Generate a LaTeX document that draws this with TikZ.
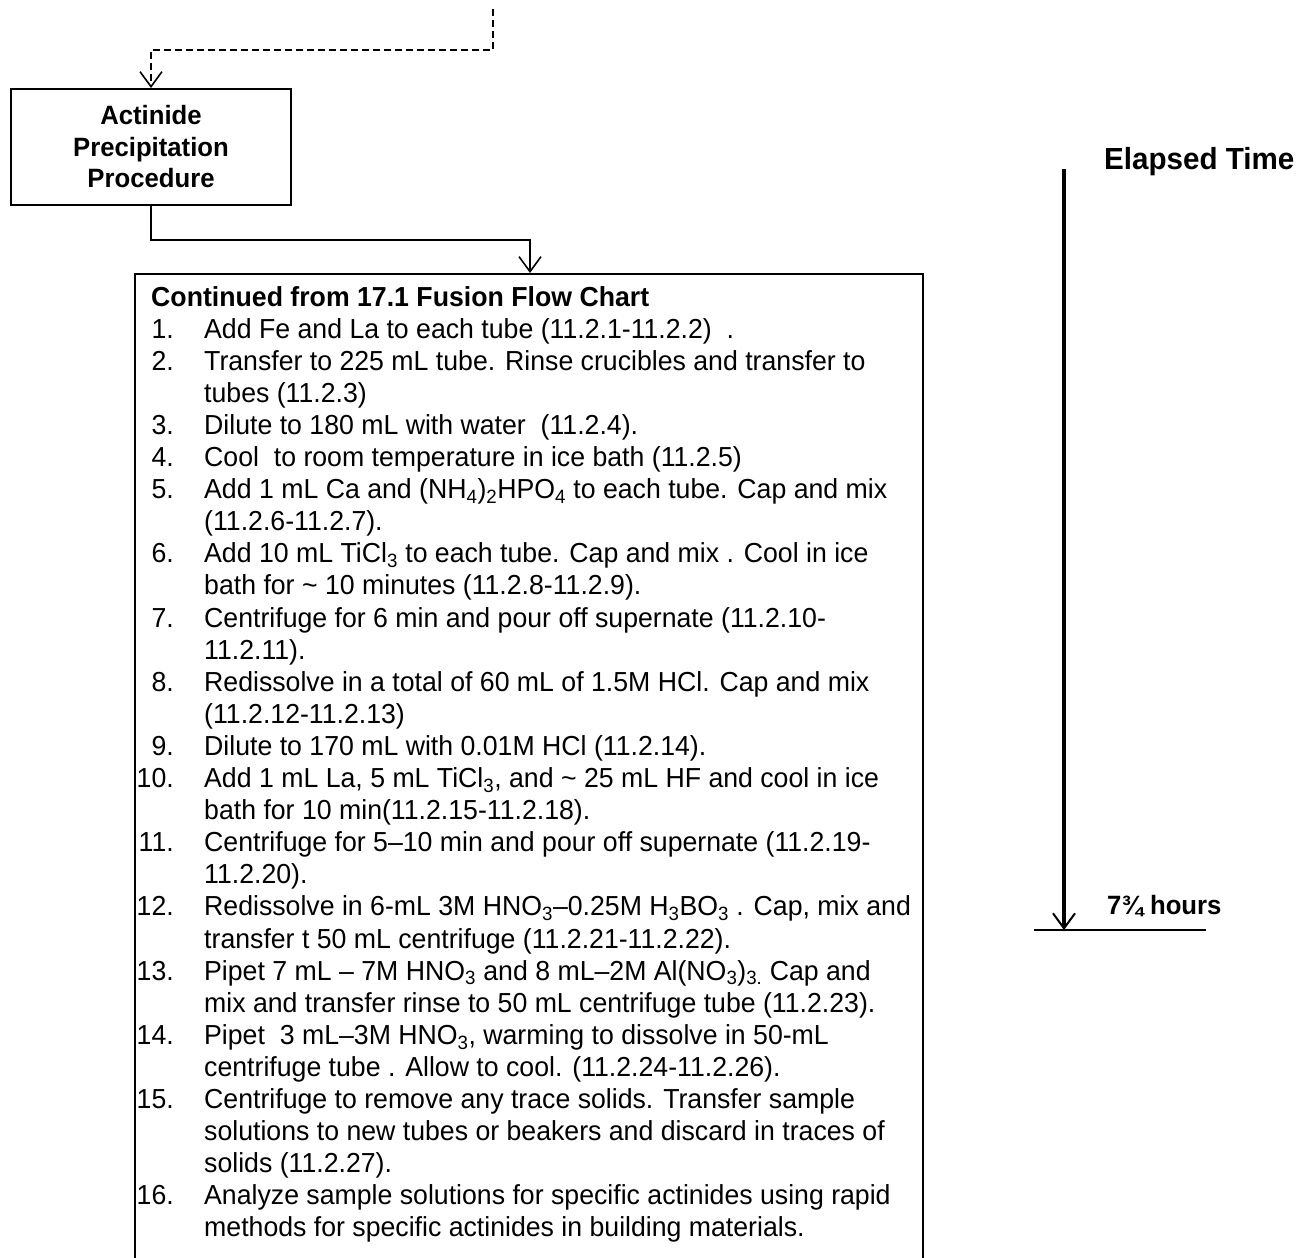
\documentclass[tikz,border=0pt]{standalone}
\usepackage{fontspec}
\setmainfont{Liberation Sans}[FakeStretch=0.97]
\usetikzlibrary{arrows.meta,calc}
\newcommand{\rowy}[1]{{306+32.1*(#1)}}
\tikzset{
  arr/.style={-{Straight Barb[length=15pt,width=22pt,line width=1.6pt]}},
  conn/.style={line width=1.6pt, arr},
  boxstyle/.style={draw, line width=2pt, inner sep=0pt},
  txt/.style={anchor=base west, inner sep=0pt, font=\fontsize{27.5}{32}\selectfont},
  num/.style={anchor=base east, inner sep=0pt, font=\fontsize{27.5}{32}\selectfont},
  bigbold/.style={inner sep=0pt, font=\bfseries\fontsize{30.5}{35}\selectfont}
}
\begin{document}
\begin{tikzpicture}[x=1pt,y=-1pt]
\useasboundingbox (0,0) rectangle (1312,1258);
% boxes
\node[boxstyle, minimum width=280pt, minimum height=116pt, align=center,
      font=\bfseries\fontsize{26.5}{31.5}\selectfont] (proc) at (151,147)
      {Actinide\\Precipitation\\Procedure};
\node[boxstyle, minimum width=788pt, minimum height=1100pt, anchor=north west] (main) at (134,273) {};
% connectors
\coordinate (dtop) at (493,9);
\draw[conn, dash pattern=on 7pt off 4pt] (dtop) -- ++(0,41) -| (proc.north);
\draw[conn] (proc.south) -- ++(0,34) -| ([xshift=396pt]main.north west);
% list
\node[txt, font=\bfseries\fontsize{27.5}{32}\selectfont] (t0) at (151,\rowy{0}) {Continued from 17.1 Fusion Flow Chart};
\node[num] (n1) at (174,\rowy{1}) {1.};
\node[txt] (t1) at (204,\rowy{1}) {Add Fe and La to each tube (11.2.1-11.2.2)\ \ .};
\node[num] (n2) at (174,\rowy{2}) {2.};
\node[txt] (t2) at (204,\rowy{2}) {Transfer to 225 mL tube. Rinse crucibles and transfer to};
\node[txt] (t3) at (204,\rowy{3}) {tubes (11.2.3)};
\node[num] (n3) at (174,\rowy{4}) {3.};
\node[txt] (t4) at (204,\rowy{4}) {Dilute to 180 mL with water\ \ (11.2.4).};
\node[num] (n4) at (174,\rowy{5}) {4.};
\node[txt] (t5) at (204,\rowy{5}) {Cool\ \ to room temperature in ice bath (11.2.5)};
\node[num] (n5) at (174,\rowy{6}) {5.};
\node[txt] (t6) at (204,\rowy{6}) {Add 1 mL Ca and (NH\textsubscript{4})\textsubscript{2}HPO\textsubscript{4} to each tube. Cap and mix};
\node[txt] (t7) at (204,\rowy{7}) {(11.2.6-11.2.7).};
\node[num] (n6) at (174,\rowy{8}) {6.};
\node[txt] (t8) at (204,\rowy{8}) {Add 10 mL TiCl\textsubscript{3} to each tube. Cap and mix . Cool in ice};
\node[txt] (t9) at (204,\rowy{9}) {bath for \textasciitilde\ 10 minutes (11.2.8-11.2.9).};
\node[num] (n7) at (174,\rowy{10}) {7.};
\node[txt] (t10) at (204,\rowy{10}) {Centrifuge for 6 min and pour off supernate (11.2.10-};
\node[txt] (t11) at (204,\rowy{11}) {11.2.11).};
\node[num] (n8) at (174,\rowy{12}) {8.};
\node[txt] (t12) at (204,\rowy{12}) {Redissolve in a total of 60 mL of 1.5M HCl. Cap and mix};
\node[txt] (t13) at (204,\rowy{13}) {(11.2.12-11.2.13)};
\node[num] (n9) at (174,\rowy{14}) {9.};
\node[txt] (t14) at (204,\rowy{14}) {Dilute to 170 mL with 0.01M HCl (11.2.14).};
\node[num] (n10) at (174,\rowy{15}) {10.};
\node[txt] (t15) at (204,\rowy{15}) {Add 1 mL La, 5 mL TiCl\textsubscript{3},\ and \textasciitilde\ 25 mL HF and cool in ice};
\node[txt] (t16) at (204,\rowy{16}) {bath for 10 min(11.2.15-11.2.18).};
\node[num] (n11) at (174,\rowy{17}) {11.};
\node[txt] (t17) at (204,\rowy{17}) {Centrifuge for 5--10 min and pour off supernate (11.2.19-};
\node[txt] (t18) at (204,\rowy{18}) {11.2.20).};
\node[num] (n12) at (174,\rowy{19}) {12.};
\node[txt] (t19) at (204,\rowy{19}) {Redissolve in 6-mL 3M HNO\textsubscript{3}--0.25M H\textsubscript{3}BO\textsubscript{3} . Cap, mix and};
\node[txt] (t20) at (204,\rowy{20}) {transfer t 50 mL centrifuge (11.2.21-11.2.22).};
\node[num] (n13) at (174,\rowy{21}) {13.};
\node[txt] (t21) at (204,\rowy{21}) {Pipet 7 mL -- 7M HNO\textsubscript{3} and 8 mL--2M Al(NO\textsubscript{3})\textsubscript{3.}\ Cap and};
\node[txt] (t22) at (204,\rowy{22}) {mix and transfer rinse to 50 mL centrifuge tube (11.2.23).};
\node[num] (n14) at (174,\rowy{23}) {14.};
\node[txt] (t23) at (204,\rowy{23}) {Pipet\ \ 3 mL--3M HNO\textsubscript{3},\ warming to dissolve in 50-mL};
\node[txt] (t24) at (204,\rowy{24}) {centrifuge tube . Allow to cool. (11.2.24-11.2.26).};
\node[num] (n15) at (174,\rowy{25}) {15.};
\node[txt] (t25) at (204,\rowy{25}) {Centrifuge to remove any trace solids. Transfer sample};
\node[txt] (t26) at (204,\rowy{26}) {solutions to new tubes or beakers and discard in traces of};
\node[txt] (t27) at (204,\rowy{27}) {solids (11.2.27).};
\node[num] (n16) at (174,\rowy{28}) {16.};
\node[txt] (t28) at (204,\rowy{28}) {Analyze sample solutions for specific actinides using rapid};
\node[txt] (t29) at (204,\rowy{29}) {methods for specific actinides in building materials.};
% elapsed time
\node[bigbold, anchor=west] (et) at (1104,162) {Elapsed Time};
\node[bigbold, anchor=west, font=\bfseries\fontsize{26.5}{32}\selectfont] (hrs) at (1107,906) {7¾ hours};
\coordinate (ttop) at (1064,169);
\coordinate (tend) at (1064,930);
\coordinate (barL) at (1034,930);
\coordinate (barR) at (1206,930);
\draw[line width=3.5pt, -{Straight Barb[length=15pt,width=22pt,line width=2pt]}] (ttop) -- (tend);
\draw[line width=2.5pt] (barL) -- (barR);
\end{tikzpicture}
\end{document}
